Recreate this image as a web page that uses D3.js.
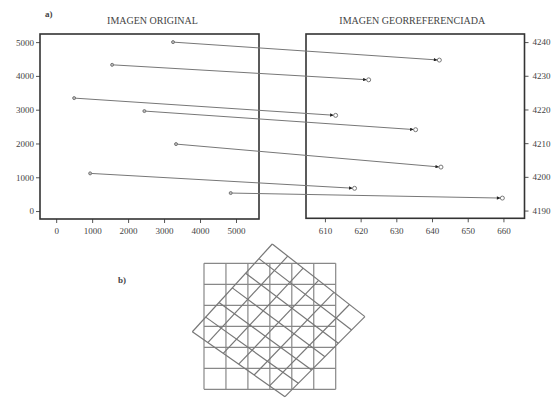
<!DOCTYPE html>
<html>
<head>
<meta charset="utf-8">
<script src="https://cdn.jsdelivr.net/npm/d3@7"></script>
<style>
  body { margin: 0; background: #fff; }
  svg { display: block; }
  text { font-family: "Liberation Serif", "DejaVu Serif", serif; fill: #444; }
</style>
</head>
<body>
<svg id="chart" width="557" height="405"></svg>
<script>
// ---- Data ----
// Control points in the original image (pixel/line coordinates)
const origX = [3250, 1556, 500, 2453, 3333, 944, 4853];
const origY = [5000, 4328, 3343, 2959, 1982, 1115, 533];
// Same control points in the georeferenced image (map coordinates)
const geoX = [642.05, 622.25, 613.0, 635.4, 642.5, 618.3, 659.7];
const geoY = [4234.66, 4228.8, 4218.25, 4214.0, 4202.9, 4196.6, 4193.7];

const origXTicks = [0, 1000, 2000, 3000, 4000, 5000];
const origYTicks = [0, 1000, 2000, 3000, 4000, 5000];
const geoXTicks = [610, 620, 630, 640, 650, 660];
const geoYTicks = [4190, 4200, 4210, 4220, 4230, 4240];

const titles = ["IMAGEN ORIGINAL", "IMAGEN GEORREFERENCIADA"];
const panelLabels = ["a)", "b)"];

// Panel b: regular 6x6 grid and its rotated/resampled counterpart (grid units)
const gridN = 6;
const rotCornerNames = ["top", "right", "bottom", "left"];
const rotCornerX = [3.11, 7.33, 3.69, -0.53];
const rotCornerY = [-0.92, 2.54, 6.35, 3.26];

// ---- Drawing ----
const svg = d3.select("#chart");
const lineCol = "#777";
const boxCol = "#333";

// Scales
const xL = d3.scaleLinear().domain([-450, 5640]).range([40, 259]);
const yL = d3.scaleLinear().domain([-235, 5240]).range([219, 34]);
const xR = d3.scaleLinear().domain([604.7, 665.9]).range([306, 524.5]);
const yR = d3.scaleLinear().domain([4187.7, 4242.4]).range([218.3, 34]);

function styleAxis(g) {
  g.select(".domain").remove();
  g.selectAll(".tick line").attr("stroke", "#555").attr("stroke-width", 1);
  g.selectAll(".tick text").attr("font-size", 9).attr("fill", "#555")
    .attr("font-family", "Liberation Serif, serif");
}

// Axes left panel
svg.append("g").attr("transform", "translate(40,0)")
  .call(d3.axisLeft(yL).tickValues(origYTicks).tickSize(4).tickPadding(2).tickFormat(d3.format("d")))
  .call(styleAxis);
svg.append("g").attr("transform", "translate(0,219)")
  .call(d3.axisBottom(xL).tickValues(origXTicks).tickSize(4).tickPadding(5).tickFormat(d3.format("d")))
  .call(styleAxis);
// Axes right panel
svg.append("g").attr("transform", "translate(524.5,0)")
  .call(d3.axisRight(yR).tickValues(geoYTicks).tickSize(4).tickPadding(4).tickFormat(d3.format("d")))
  .call(styleAxis);
svg.append("g").attr("transform", "translate(0,218.3)")
  .call(d3.axisBottom(xR).tickValues(geoXTicks).tickSize(4).tickPadding(5).tickFormat(d3.format("d")))
  .call(styleAxis);

// Boxes
svg.append("rect")
  .attr("x", xL.range()[0]).attr("y", yL.range()[1])
  .attr("width", xL.range()[1] - xL.range()[0]).attr("height", yL.range()[0] - yL.range()[1])
  .attr("fill", "none").attr("stroke", boxCol).attr("stroke-width", 1.6);
svg.append("rect")
  .attr("x", xR.range()[0]).attr("y", yR.range()[1])
  .attr("width", xR.range()[1] - xR.range()[0]).attr("height", yR.range()[0] - yR.range()[1])
  .attr("fill", "none").attr("stroke", boxCol).attr("stroke-width", 1.6);

// Titles
svg.append("text").attr("x", (xL.range()[0] + xL.range()[1]) / 2 + 3).attr("y", 24)
  .attr("text-anchor", "middle").attr("font-size", 10).text(titles[0]);
svg.append("text").attr("x", (xR.range()[0] + xR.range()[1]) / 2 - 3).attr("y", 24)
  .attr("text-anchor", "middle").attr("font-size", 10).text(titles[1]);
svg.append("text").attr("x", 45).attr("y", 17).attr("font-size", 9).attr("font-weight", "bold").text(panelLabels[0]);
svg.append("text").attr("x", 118).attr("y", 283).attr("font-size", 9).attr("font-weight", "bold").text(panelLabels[1]);

// Arrow marker
svg.append("defs").append("marker")
  .attr("id", "arr").attr("viewBox", "0 0 10 10").attr("refX", 10).attr("refY", 5)
  .attr("markerWidth", 6).attr("markerHeight", 3.5).attr("markerUnits", "userSpaceOnUse")
  .attr("orient", "auto")
  .append("path").attr("d", "M0,0L10,5L0,10z").attr("fill", "#222");

const pairs = origX.map((d, i) => ({
  x1: xL(origX[i]), y1: yL(origY[i]), x2: xR(geoX[i]), y2: yR(geoY[i])
}));
const rEnd = 2;
svg.append("g").selectAll("line").data(pairs).join("line")
  .attr("x1", d => d.x1).attr("y1", d => d.y1)
  .attr("x2", d => { const L = Math.hypot(d.x2 - d.x1, d.y2 - d.y1); return d.x2 - (d.x2 - d.x1) * rEnd / L; })
  .attr("y2", d => { const L = Math.hypot(d.x2 - d.x1, d.y2 - d.y1); return d.y2 - (d.y2 - d.y1) * rEnd / L; })
  .attr("stroke", lineCol).attr("stroke-width", 1)
  .attr("marker-end", "url(#arr)");
svg.append("g").selectAll("circle").data(pairs).join("circle")
  .attr("cx", d => d.x1).attr("cy", d => d.y1).attr("r", 1.5)
  .attr("fill", "#bbb").attr("stroke", lineCol).attr("stroke-width", 1);
svg.append("g").selectAll("circle").data(pairs).join("circle")
  .attr("cx", d => d.x2).attr("cy", d => d.y2).attr("r", rEnd)
  .attr("fill", "#fff").attr("stroke", lineCol).attr("stroke-width", 1);

// ---- Panel b ----
const gx = d3.scaleLinear().domain([0, gridN]).range([204, 335.7]);
const gy = d3.scaleLinear().domain([0, gridN]).range([263.3, 389.3]);
const gb = svg.append("g").attr("fill", "none");
const steps = d3.range(gridN + 1);
// regular grid
gb.selectAll("line.v").data(steps).join("line").attr("class", "v")
  .attr("x1", d => gx(d)).attr("x2", d => gx(d)).attr("y1", gy(0)).attr("y2", gy(gridN))
  .attr("stroke", "#888").attr("stroke-width", 1.2);
gb.selectAll("line.h").data(steps).join("line").attr("class", "h")
  .attr("y1", d => gy(d)).attr("y2", d => gy(d)).attr("x1", gx(0)).attr("x2", gx(gridN))
  .attr("stroke", "#888").attr("stroke-width", 1.2);
// rotated grid
const C = {};
rotCornerNames.forEach((n, i) => C[n] = [rotCornerX[i], rotCornerY[i]]);
const lerp = (a, b, t) => [a[0] + (b[0] - a[0]) * t, a[1] + (b[1] - a[1]) * t];
const rotLines = [];
steps.forEach(i => {
  const t = i / gridN;
  rotLines.push([lerp(C.top, C.left, t), lerp(C.right, C.bottom, t)]);
  rotLines.push([lerp(C.top, C.right, t), lerp(C.left, C.bottom, t)]);
});
gb.selectAll("line.r").data(rotLines).join("line").attr("class", "r")
  .attr("x1", d => gx(d[0][0])).attr("y1", d => gy(d[0][1]))
  .attr("x2", d => gx(d[1][0])).attr("y2", d => gy(d[1][1]))
  .attr("stroke", "#777").attr("stroke-width", 1.2);
</script>
</body>
</html>
